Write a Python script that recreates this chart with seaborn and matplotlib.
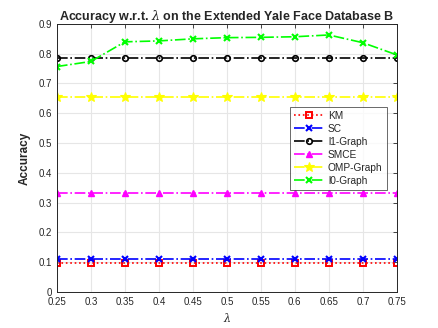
import matplotlib
matplotlib.use("Agg")
import matplotlib.pyplot as plt
import seaborn as sns
import pandas as pd

lambdas = [0.25, 0.3, 0.35, 0.4, 0.45, 0.5, 0.55, 0.6, 0.65, 0.7, 0.75]
km = [0.097] * 11
sc = [0.110] * 11
l1_graph = [0.786] * 11
smce = [0.331] * 11
omp_graph = [0.654] * 11
l0_graph = [0.757, 0.774, 0.840, 0.843, 0.850, 0.854, 0.855, 0.857, 0.863, 0.837, 0.796]

series_names = ["KM", "SC", "l1-Graph", "SMCE", "OMP-Graph", "l0-Graph"]
series_values = [km, sc, l1_graph, smce, omp_graph, l0_graph]

xticks = [0.25, 0.3, 0.35, 0.4, 0.45, 0.5, 0.55, 0.6, 0.65, 0.7, 0.75]
xticklabels = ["0.25", "0.3", "0.35", "0.4", "0.45", "0.5", "0.55", "0.6", "0.65", "0.7", "0.75"]
yticks = [0, 0.1, 0.2, 0.3, 0.4, 0.5, 0.6, 0.7, 0.8, 0.9]
yticklabels = ["0", "0.1", "0.2", "0.3", "0.4", "0.5", "0.6", "0.7", "0.8", "0.9"]

rows = []
for name, vals in zip(series_names, series_values):
    for x, v in zip(lambdas, vals):
        rows.append({"lambda": x, "Accuracy": v, "method": name})
df = pd.DataFrame(rows)

sns.set_style("white")
plt.rcParams["font.family"] = ["Liberation Sans", "DejaVu Sans"]
plt.rcParams["mathtext.fontset"] = "dejavuserif"

fig = plt.figure(figsize=(4.38, 3.28), dpi=100)
ax = fig.add_axes([0.130, 0.110, 0.776, 0.817])

styles = {
    "KM": dict(color="#ff0000", linestyle=":", marker="s", markersize=4, mfc="none", mew=1.4),
    "SC": dict(color="#0000ff", linestyle="-.", marker="x", markersize=4.5, mew=1.5),
    "l1-Graph": dict(color="#000000", linestyle="-.", marker="o", markersize=4, mfc="none", mew=1.2),
    "SMCE": dict(color="#ff00ff", linestyle="-.", marker="^", markersize=5, mew=1.0),
    "OMP-Graph": dict(color="#ffff00", linestyle="-.", marker="*", markersize=7, mew=0.8),
    "l0-Graph": dict(color="#00ff00", linestyle="-.", marker="x", markersize=4.5, mew=1.5),
}

for name in series_names:
    st = styles[name]
    sub = df[df["method"] == name]
    sns.lineplot(data=sub, x="lambda", y="Accuracy", ax=ax, label=name,
                 color=st["color"], linestyle=st["linestyle"], marker=st["marker"],
                 markersize=st["markersize"], markeredgewidth=st["mew"],
                 markeredgecolor=st["color"],
                 markerfacecolor=st.get("mfc", st["color"]),
                 linewidth=1.2)

ax.set_xlim(0.25, 0.75)
ax.set_ylim(0, 0.9)
ax.set_xticks(xticks)
ax.set_xticklabels(xticklabels)
ax.set_yticks(yticks)
ax.set_yticklabels(yticklabels)
ax.grid(True, color="#e6e6e6", linewidth=0.8)
ax.set_axisbelow(True)
for s in ax.spines.values():
    s.set_color("#262626")
    s.set_linewidth(0.7)
ax.tick_params(direction="in", length=3, width=0.6, labelsize=7, colors="#262626",
               top=True, right=True, labelcolor="#262626")
ax.set_title(r"Accuracy w.r.t. $\lambda$ on the Extended Yale Face Database B",
             fontsize=9.0, fontweight="bold", pad=3)
ax.set_xlabel(r"$\lambda$", fontsize=8, labelpad=3)
ax.set_ylabel("Accuracy", fontsize=8.5, fontweight="bold", labelpad=6)

leg = ax.legend(loc="upper right", bbox_to_anchor=(0.985, 0.71), fontsize=7.3,
                frameon=True, fancybox=False, edgecolor="#262626",
                handlelength=2.9, labelspacing=0.3, borderpad=0.4, handletextpad=0.45)
leg.get_frame().set_linewidth(0.6)

fig.savefig("out.png", dpi=100)
